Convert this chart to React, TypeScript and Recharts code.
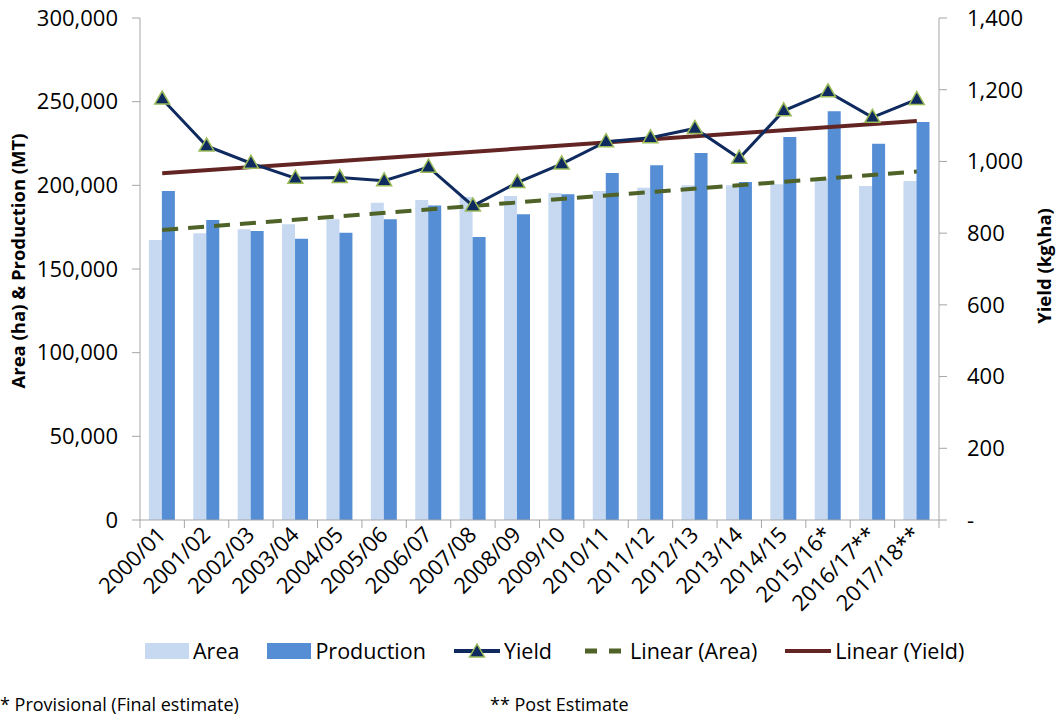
import { ComposedChart, Bar, Line, XAxis, YAxis } from 'recharts';

const seasons = [
  '2000/01', '2001/02', '2002/03', '2003/04', '2004/05', '2005/06', '2006/07', '2007/08', '2008/09',
  '2009/10', '2010/11', '2011/12', '2012/13', '2013/14', '2014/15', '2015/16*', '2016/17**', '2017/18**',
];
const area = [
  167300, 171300, 173700, 176700, 179700, 189600, 191200, 193000, 193600,
  195400, 196600, 198600, 200000, 200000, 200600, 204000, 199600, 202600,
];
const production = [
  196600, 179300, 172700, 168100, 171700, 179700, 188000, 169100, 182700,
  194600, 207400, 212000, 219300, 202000, 228900, 244200, 224900, 237900,
];
const yieldKgHa = [
  1174, 1043, 995, 953, 955, 946, 984, 876, 941,
  993, 1055, 1066, 1092, 1009, 1141, 1194, 1123, 1173,
];
// trend lines: only the end points, joined by the library
const areaTrendEnds = [173300, 208300];
const yieldTrendEnds = [967, 1113];

const leftTicks = [0, 50000, 100000, 150000, 200000, 250000, 300000];
const rightTicks = [0, 200, 400, 600, 800, 1000, 1200, 1400];

const data = seasons.map((season, i) => ({
  season,
  area: area[i],
  production: production[i],
  yield: yieldKgHa[i],
  areaTrend: i === 0 ? areaTrendEnds[0] : i === seasons.length - 1 ? areaTrendEnds[1] : null,
  yieldTrend: i === 0 ? yieldTrendEnds[0] : i === seasons.length - 1 ? yieldTrendEnds[1] : null,
}));

const FONT = '"Open Sans", sans-serif';
const AXIS = '#A6A6A6';
const PLOT_LEFT = 140;
const PLOT_RIGHT = 939;
const BAND = (PLOT_RIGHT - PLOT_LEFT) / seasons.length;

const fmt = (v: number) => v.toLocaleString('en-US');

function SeasonTick(props: any) {
  const { x, y, payload, index } = props;
  const tx = x + 5;
  const ty = y + 16;
  return (
    <g>
      <line x1={x - BAND / 2} x2={x - BAND / 2} y1={y} y2={y + 8} stroke={AXIS} />
      {index === seasons.length - 1 && (
        <line x1={x + BAND / 2} x2={x + BAND / 2} y1={y} y2={y + 8} stroke={AXIS} />
      )}
      <text
        x={tx}
        y={ty}
        textAnchor="end"
        transform={`rotate(-45, ${tx}, ${ty})`}
        fontSize={22}
        fontFamily={FONT}
        fill="#000"
      >
        {payload.value}
      </text>
    </g>
  );
}

function Triangle(props: any) {
  const { cx, cy } = props;
  if (cx == null || cy == null) return null;
  return (
    <polygon
      points={`${cx},${cy - 8} ${cx - 7.5},${cy + 5} ${cx + 7.5},${cy + 5}`}
      fill="#0F2A5E"
      stroke="#9BBB59"
      strokeWidth={1.5}
    />
  );
}

function LegendItem({ kind, color, label }: { kind: string; color: string; label: string }) {
  let mark;
  if (kind === 'box') {
    mark = <div style={{ width: 44, height: 16, background: color }} />;
  } else {
    mark = (
      <svg width={46} height={16}>
        <line
          x1={0}
          x2={46}
          y1={8}
          y2={8}
          stroke={color}
          strokeWidth={kind === 'dash' ? 5 : 4}
          strokeDasharray={kind === 'dash' ? '12 12' : undefined}
          strokeDashoffset={kind === 'dash' ? -5 : 0}
        />
        {kind === 'tri' && <Triangle cx={23} cy={9} />}
      </svg>
    );
  }
  return (
    <div style={{ display: 'flex', alignItems: 'center', marginRight: 28 }}>
      {mark}
      <span style={{ marginLeft: 4 }}>{label}</span>
    </div>
  );
}

export default function App() {
  return (
    <div style={{ position: 'absolute', left: 0, top: 0, width: 1063, height: 717, background: '#fff', fontFamily: FONT }}>
      <ComposedChart
        width={1063}
        height={717}
        data={data}
        margin={{ top: 18, right: 0, left: 0, bottom: 97 }}
        barCategoryGap="20%"
        barGap={0}
      >
        <XAxis
          dataKey="season"
          height={100}
          interval={0}
          tickSize={0}
          tickMargin={0}
          tickLine={false}
          axisLine={{ stroke: AXIS }}
          tick={<SeasonTick />}
        />
        <YAxis
          yAxisId="left"
          width={140}
          domain={[0, 300000]}
          ticks={leftTicks}
          tickFormatter={fmt}
          tickSize={8}
          tickMargin={14}
          axisLine={{ stroke: AXIS }}
          tickLine={{ stroke: AXIS }}
          tick={{ fontSize: 22, fill: '#000', fontFamily: FONT }}
          label={{
            content: () => (
              <text
                x={25}
                y={261}
                transform="rotate(-90, 25, 261)"
                textAnchor="middle"
                fontSize={18.5}
                fontWeight="bold"
                fontFamily={FONT}
                fill="#000"
              >
                Area (ha) &amp; Production (MT)
              </text>
            ),
          }}
        />
        <YAxis
          yAxisId="right"
          orientation="right"
          width={124}
          domain={[0, 1400]}
          ticks={rightTicks}
          tickFormatter={(v: number) => (v === 0 ? '-' : fmt(v))}
          tickSize={8}
          tickMargin={20}
          axisLine={{ stroke: AXIS }}
          tickLine={{ stroke: AXIS }}
          tick={{ fontSize: 22, fill: '#000', fontFamily: FONT, textAnchor: 'start' }}
          label={{
            content: () => (
              <text
                x={1051}
                y={266}
                transform="rotate(-90, 1051, 266)"
                textAnchor="middle"
                fontSize={18.5}
                fontWeight="bold"
                fontFamily={FONT}
                fill="#000"
              >
                Yield (kg\ha)
              </text>
            ),
          }}
        />
        <Bar yAxisId="left" dataKey="area" name="Area" fill="#C6D9F1" isAnimationActive={false} />
        <Bar yAxisId="left" dataKey="production" name="Production" fill="#558ED5" isAnimationActive={false} />
        <Line
          yAxisId="left"
          dataKey="areaTrend"
          name="Linear (Area)"
          stroke="#4F6228"
          strokeWidth={4}
          strokeDasharray="16 10"
          dot={false}
          connectNulls
          isAnimationActive={false}
        />
        <Line
          yAxisId="right"
          dataKey="yieldTrend"
          name="Linear (Yield)"
          stroke="#632523"
          strokeWidth={4}
          dot={false}
          connectNulls
          isAnimationActive={false}
        />
        <Line
          yAxisId="right"
          dataKey="yield"
          name="Yield"
          stroke="#0F2A5E"
          strokeWidth={3}
          dot={<Triangle />}
          activeDot={false}
          isAnimationActive={false}
        />
      </ComposedChart>
      <div
        style={{
          position: 'absolute',
          top: 636,
          left: 145,
          display: 'flex',
          fontSize: 21.5,
          whiteSpace: 'nowrap',
        }}
      >
        <LegendItem kind="box" color="#C6D9F1" label="Area" />
        <LegendItem kind="box" color="#558ED5" label="Production" />
        <LegendItem kind="tri" color="#0F2A5E" label="Yield" />
        <LegendItem kind="dash" color="#4F6228" label="Linear (Area)" />
        <LegendItem kind="line" color="#632523" label="Linear (Yield)" />
      </div>
      <div style={{ position: 'absolute', top: 692, left: 0, fontSize: 18 }}>* Provisional (Final estimate)</div>
      <div style={{ position: 'absolute', top: 692, left: 490, fontSize: 18 }}>** Post Estimate</div>
    </div>
  );
}
